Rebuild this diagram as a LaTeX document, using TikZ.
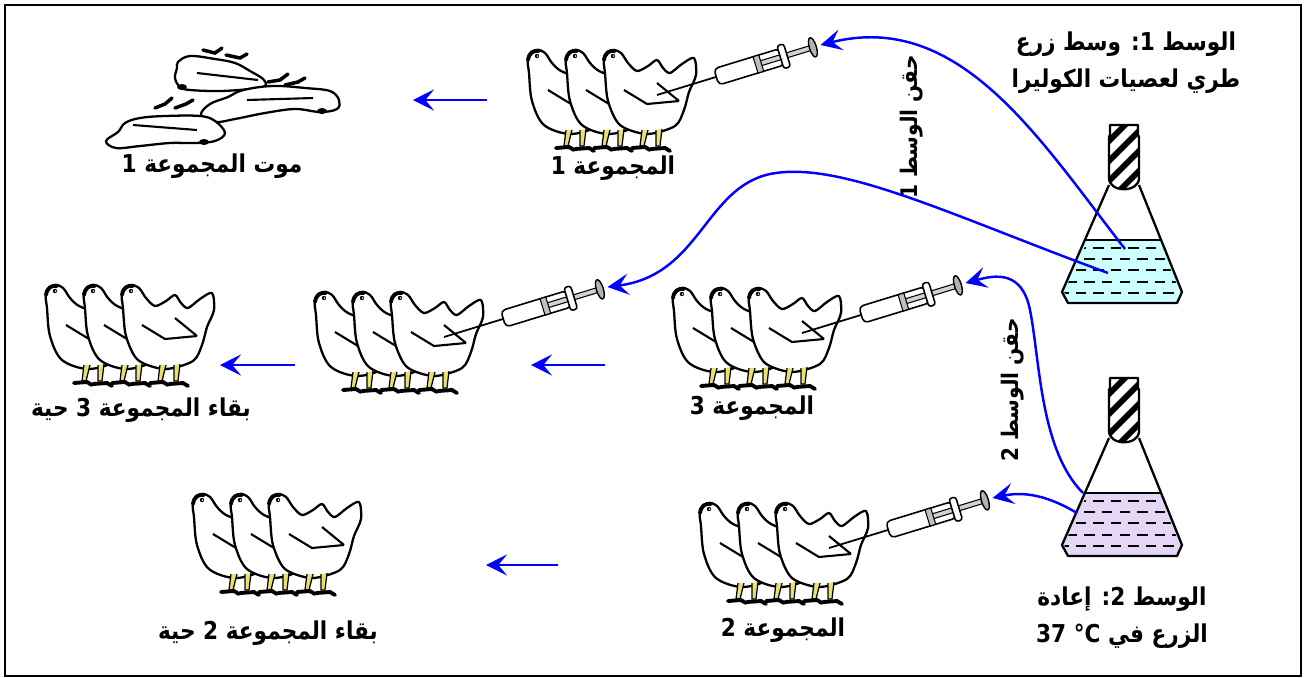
\documentclass[tikz,border=0pt]{standalone}
\usepackage{fontspec}
\setmainfont{Liberation Sans}
\newfontfamily\arabicfont[Script=Arabic,FakeStretch=0.88]{DejaVu Sans}
\TeXXeTstate=1
\usetikzlibrary{positioning,arrows.meta,calc}

\definecolor{liqA}{HTML}{CCFFFF}
\definecolor{liqB}{HTML}{E6D6F6}
\definecolor{legcol}{HTML}{E8E070}

% one hen, details
\newcommand{\hendetails}{%
  \draw[line width=0.7pt,fill=legcol] (38,72) -- (36,88) -- (40,88) -- (44,72);
  \draw[line width=0.7pt,fill=legcol] (52,72) -- (52,88) -- (56,88) -- (58,71);
  \draw[line width=2.2pt,line cap=round] (28,90) -- (41,89) -- (46,92) (47,91) -- (61,90) -- (66,93);
  \draw[line width=2.2pt,line cap=round] (0,2) .. controls (1,-5) and (5,-8) .. (11,-7);
  \fill[black] (9,-2) circle (2.2);
  \fill[legcol] (9.5,-2) circle (1);
}
\newcommand{\henback}[2]{%
  \begin{scope}[shift={(#1,#2)}]
    \draw[hen] plot[smooth cycle,tension=0.55] coordinates {(0,1) (8,-8) (17,-5) (24,5) (33,13) (50,20) (66,32) (77,48) (71,67) (43,76) (16,67) (4,43) (1,15)};
    \hendetails
    \draw[line width=1.2pt] (20,32) -- (43,46);
  \end{scope}}
\newcommand{\henfront}[2]{%
  \begin{scope}[shift={(#1,#2)}]
    \draw[hen] plot[smooth cycle,tension=0.5] coordinates {(0,1) (8,-8) (17,-5) (24,5) (33,13) (44,8) (53,2) (59,10) (66,15) (78,6) (90,0) (92,17) (85,34) (80,52) (71,68) (43,76) (16,67) (4,43) (1,15)};
    \hendetails
    \draw[line width=1.2pt] (20,32) -- (43,46) -- (75,43) (53,25) -- (75,43);
  \end{scope}}
\newcommand{\flock}[2]{%
  \henback{#1}{#2}
  \henback{#1+38}{#2}
  \henfront{#1+76}{#2}}

% syringe from needle tip
\newcommand{\syringe}[3]{%
  \begin{scope}[shift={(#1,#2)},rotate=17]
    \draw[line width=1pt] (0,0) -- (62,0);
    \draw[line width=0.9pt,fill=white,rounded corners=2.5pt] (62,-8.5) -- (131,-8.5) -- (131,8.5) -- (62,8.5) -- cycle;
    \draw[line width=0.6pt,fill=gray!35] (108,-2.5) rectangle (160,2.5);
    \draw[line width=0.6pt,fill=gray!50] (103,-8.5) rectangle (109,8.5);
    \draw[line width=0.9pt,fill=white,rounded corners=1.5pt] (129,-12) rectangle (136,12);
    \draw[line width=0.8pt,fill=gray!60] (163,0) ellipse [x radius=3.5,y radius=10];
    \coordinate (#3) at (171,0);
  \end{scope}}

% flask shifted down
\newcommand{\flask}[2]{%
  \begin{scope}[shift={(0,#1)}]
    \fill[#2] (1085,240) -- (1161,240) -- (1182,292) -- (1177,303) -- (1068,303) -- (1062,292) -- cycle;
    \begin{scope}
      \clip (1087,242) -- (1159,242) -- (1180,292) -- (1175,301) -- (1070,301) -- (1064,292) -- cycle;
      \foreach \r/\p in {248/0,259/5,270/0,282/5,293/0}
        \draw[line width=1.5pt,dash pattern=on 6pt off 4pt,dash phase=\p pt] (1058,\r) -- (1186,\r);
    \end{scope}
    \draw[line width=1.1pt] (1085,240) -- (1161,240);
    \draw[line width=1.3pt,line join=round] (1109,185) -- (1062,292) -- (1068,303) -- (1177,303) -- (1182,292) -- (1139,185);
    \begin{scope}
      \clip (1110,125) -- (1138,125) -- (1138,136) -- (1139,136) -- (1139,178) .. controls (1139,193) and (1109,193) .. (1109,178) -- (1109,136) -- (1110,136) -- cycle;
      \fill[white] (1100,120) rectangle (1150,195);
      \foreach \k in {0,...,5}
        \draw[line width=3.4pt] (1100,130+20*\k) -- (1150,80+20*\k);
    \end{scope}
    \draw[line width=1.3pt,line join=round] (1110,125) -- (1138,125) -- (1138,136) -- (1139,136) -- (1139,178) .. controls (1139,193) and (1109,193) .. (1109,178) -- (1109,136) -- (1110,136) -- cycle;
  \end{scope}}

\begin{document}
\begin{tikzpicture}[x=0.02cm,y=-0.02cm,
    hen/.style={draw,fill=white,line width=1.3pt,line join=round},
    lab/.style={font=\arabicfont\bfseries\fontsize{14}{21}\selectfont,align=center,inner sep=0pt},
    flow/.style={blue,line width=1.4pt,-{Stealth[length=12pt,width=12pt,inset=5pt]}}]
  \useasboundingbox (0,0) rectangle (1309,677);
  \draw[line width=1.4pt] (5,5) rectangle (1301,676);

  % flasks
  \flask{0}{liqA}
  \flask{253}{liqB}

  % dead hens
  \draw[hen] plot[smooth cycle,tension=0.6] coordinates {(178,62) (190,56) (215,59) (235,63) (250,71) (263,79) (265,86) (250,89) (220,91) (190,90) (180,87) (175,78) (177,68)};
  \draw[line width=1.2pt] (197,73) -- (258,80);
  \draw[line width=2pt,line cap=round] (203,50) -- (215,53) -- (222,48) (226,55) -- (240,58) -- (247,54);
  \fill (182,87) ellipse [x radius=5,y radius=3];
  \draw[hen] plot[smooth cycle,tension=0.6] coordinates {(228,97) (240,91) (260,87) (280,86) (305,88) (330,91) (339,100) (337,109) (320,112) (295,109) (265,113) (235,119) (215,122) (201,115) (210,104)};
  \draw[line width=1.2pt] (247,100) -- (313,98);
  \draw[line width=2pt,line cap=round] (268,82) -- (280,80) -- (288,74) (285,85) -- (298,82) -- (305,78);
  \fill (322,111) ellipse [x radius=5,y radius=3];
  \draw[hen] plot[smooth cycle,tension=0.6] coordinates {(106,141) (118,132) (125,123) (140,118) (165,116) (200,116) (215,121) (225,133) (215,141) (195,143) (170,143) (140,146) (116,148)};
  \draw[line width=1.2pt] (133,125) -- (197,130);
  \draw[line width=2pt,line cap=round] (155,108) -- (165,104) -- (172,98) (175,108) -- (186,104) -- (193,100);
  \fill (204,142) ellipse [x radius=5,y radius=3];

  % hens
  \flock{528}{58}
  \flock{46}{293}
  \flock{315}{300}
  \flock{673}{296}
  \flock{193}{502}
  \flock{700}{511}

  % syringes
  \syringe{657}{95}{S1}
  \syringe{444}{337}{S2}
  \syringe{802}{333}{S3}
  \syringe{829}{548}{S4}

  % labels
  \node[lab] (M1) at (1126,63) {\beginR الوسط \beginL 1:\endL{} وسط زرع\endR\\\beginR طري لعصيات الكوليرا\endR};
  \node[lab] (M2) at (1122,618) {\beginR الوسط \beginL 2:\endL{} إعادة\endR\\\beginR الزرع في \beginL 37 °C\endL\endR};
  \node[lab,rotate=90,font=\arabicfont\bfseries\fontsize{13}{15}\selectfont] (I1) at (912,127) {\beginR حقن الوسط 1\endR};
  \node[lab,rotate=90,font=\arabicfont\bfseries\fontsize{13}{15}\selectfont] (I2) at (1013,390) {\beginR حقن الوسط 2\endR};
  \node[lab] (D1) at (212,166) {\beginR موت المجموعة 1\endR};
  \node[lab] (G1) at (613,168) {\beginR المجموعة 1\endR};
  \node[lab] (L3) at (141,410) {\beginR بقاء المجموعة 3 حية\endR};
  \node[lab] (G3) at (752,408) {\beginR المجموعة 3\endR};
  \node[lab] (L2) at (268,633) {\beginR بقاء المجموعة 2 حية\endR};
  \node[lab] (G2) at (783,630) {\beginR المجموعة 2\endR};

  % arrows
  \coordinate (P1) at (1125,249);
  \coordinate (P2) at (1108,273);
  \coordinate (P3) at (1083,493);
  \coordinate (P4) at (1077,513);
  \draw[flow] (P1) .. controls (1040,140) and (960,10) .. (S1);
  \draw[flow] (P2) .. controls (950,215) and (840,160) .. (770,174) .. controls (705,188) and (700,275) .. (S2);
  \draw[flow] (P3) .. controls (1040,450) and (1040,360) .. (1030,310) .. controls (1022,270) and (995,275) .. (S3);
  \draw[flow] (P4) .. controls (1055,500) and (1030,490) .. (S4);

  \coordinate (a1) at (487,100); \coordinate (b1) at (413,100);
  \coordinate (a2) at (295,365); \coordinate (b2) at (220,365);
  \coordinate (a3) at (605,365); \coordinate (b3) at (531,365);
  \coordinate (a4) at (558,565); \coordinate (b4) at (486,565);
  \foreach \i in {1,...,4}
    \draw[flow] (a\i) -- (b\i);
\end{tikzpicture}
\end{document}
